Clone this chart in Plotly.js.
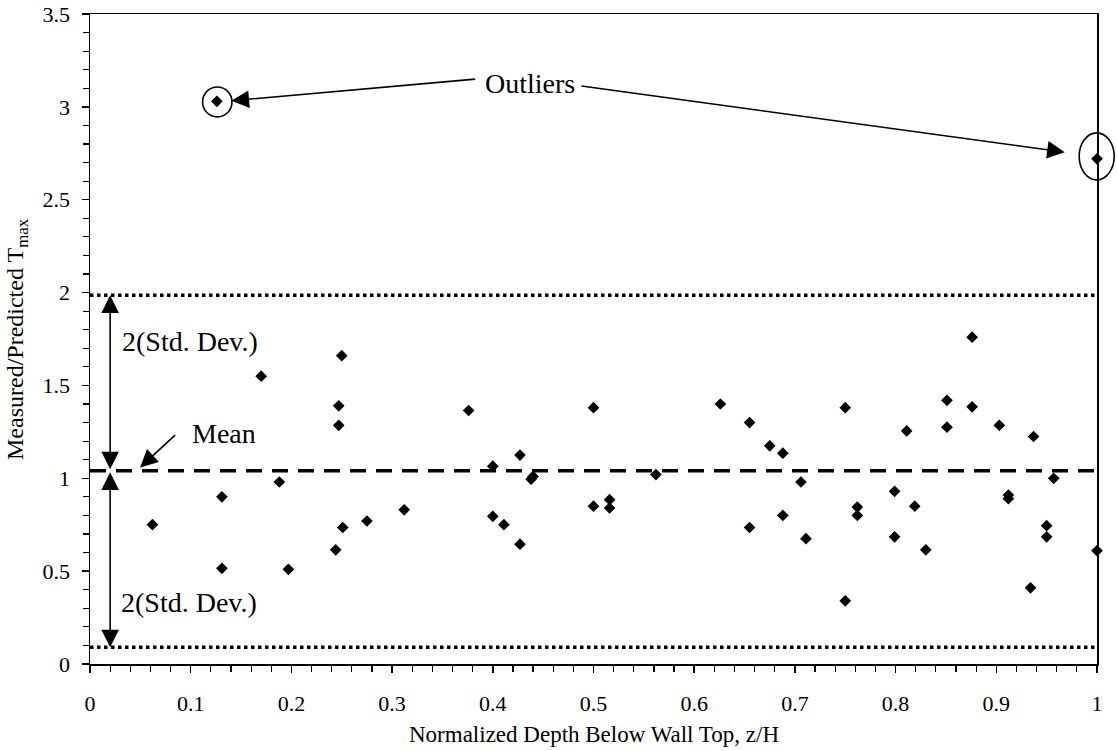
<!DOCTYPE html>
<html>
<head>
<meta charset="utf-8">
<script src="https://cdn.plot.ly/plotly-3.0.1.min.js"></script>
<style>html,body{margin:0;padding:0;background:#fff;}#chart{width:1117px;height:751px;}</style>
</head>
<body>
<div id="chart"></div>
<script>
// Normalized depth z/H
var depth = [0.062,0.126,0.131,0.131,0.170,0.188,0.197,0.244,0.247,0.247,0.250,0.251,0.275,0.312,
  0.376,0.400,0.400,0.411,0.427,0.427,0.438,0.440,0.500,0.500,0.516,0.516,0.562,0.626,0.655,0.655,
  0.675,0.688,0.688,0.706,0.711,0.750,0.750,0.762,0.762,0.799,0.799,0.811,0.819,0.830,0.851,0.851,
  0.876,0.876,0.903,0.912,0.912,0.934,0.937,0.950,0.950,0.957,1.000,1.000];
// Measured / Predicted Tmax
var ratio = [0.75,3.03,0.90,0.515,1.55,0.98,0.51,0.615,1.39,1.285,1.66,0.735,0.77,0.83,
  1.365,1.065,0.795,0.75,1.125,0.645,0.995,1.01,1.38,0.85,0.885,0.84,1.02,1.40,1.30,0.735,
  1.175,1.135,0.80,0.98,0.675,1.38,0.34,0.845,0.80,0.93,0.685,1.255,0.85,0.615,1.42,1.275,
  1.76,1.385,1.285,0.91,0.89,0.41,1.225,0.745,0.685,1.00,0.61,2.72];
// Statistics lines
var meanValue = 1.04;
var upperBound = 1.985;   // mean + 2 std dev
var lowerBound = 0.09;    // mean - 2 std dev
var xLimits = [0, 1];

var serif = '"Liberation Serif", "Times New Roman", Times, serif';

var traces = [
  {x: xLimits, y: [upperBound, upperBound], mode: 'lines', line: {color: '#000', width: 3.5, dash: '3.5px,3.5px'}, hoverinfo: 'skip', showlegend: false},
  {x: xLimits, y: [lowerBound, lowerBound], mode: 'lines', line: {color: '#000', width: 3.5, dash: '3.5px,3.5px'}, hoverinfo: 'skip', showlegend: false},
  {x: xLimits, y: [meanValue, meanValue], mode: 'lines', line: {color: '#000', width: 3.5, dash: '16px,10px'}, hoverinfo: 'skip', showlegend: false},
  {x: depth, y: ratio, mode: 'markers', type: 'scatter', cliponaxis: false,
   marker: {symbol: 'diamond', size: 9, color: '#000'}, showlegend: false}
];

var arrowStyle = {showarrow: true, arrowhead: 2, arrowsize: 2.2, arrowwidth: 1.6, arrowcolor: '#000', standoff: 0, startstandoff: 0, text: '', axref: 'x', ayref: 'y', xref: 'x', yref: 'y'};
function arrow(x0, y0, x1, y1, extra) {
  var a = Object.assign({}, arrowStyle, {ax: x0, ay: y0, x: x1, y: y1});
  return Object.assign(a, extra || {});
}
var lblFont = {family: serif, size: 28, color: '#000'};

var annotations = [
  // outliers
  {x: 0.437, y: 3.125, xref: 'x', yref: 'y', text: 'Outliers', showarrow: false, font: lblFont, xanchor: 'center', yanchor: 'middle'},
  arrow(0.384, 3.15, 0.1405, 3.033),
  arrow(0.4866, 3.113, 0.968, 2.756),
  // mean
  {x: 0.099, y: 1.24, xref: 'x', yref: 'y', text: 'Mean', showarrow: false, font: lblFont, xanchor: 'left', yanchor: 'middle'},
  arrow(0.086, 1.24, 0.0497, 1.058),
  // std dev arrows
  arrow(0.02, meanValue, 0.02, upperBound, {arrowside: 'end+start'}),
  arrow(0.02, meanValue, 0.02, lowerBound, {arrowside: 'end+start'}),
  {x: 0.03, y: 1.737, xref: 'x', yref: 'y', text: '2(Std. Dev.)', showarrow: false, font: lblFont, xanchor: 'left', yanchor: 'middle'},
  {x: 0.029, y: 0.33, xref: 'x', yref: 'y', text: '2(Std. Dev.)', showarrow: false, font: lblFont, xanchor: 'left', yanchor: 'middle'},
  // axis titles
  {x: 0.5, y: -0.109, xref: 'paper', yref: 'paper', text: 'Normalized Depth Below Wall Top, z/H', showarrow: false,
   font: {family: serif, size: 23, color: '#000'}, xanchor: 'center', yanchor: 'middle'},
  {x: -0.0725, y: 0.5, xref: 'paper', yref: 'paper', text: 'Measured/Predicted T<sub>max</sub>', showarrow: false, textangle: -90,
   font: {family: serif, size: 24, color: '#000'}, xanchor: 'center', yanchor: 'middle'}
];

var shapes = [
  {type: 'circle', xref: 'paper', yref: 'paper', x0: 0.1118, x1: 0.1410, y0: 2.946/3.5, y1: 3.107/3.5, line: {color: '#000', width: 1.6}},
  {type: 'circle', xref: 'paper', yref: 'paper', x0: 0.9823, x1: 1.0171, y0: 2.607/3.5, y1: 2.860/3.5, line: {color: '#000', width: 1.6}}
];

var tickFont = {family: serif, size: 22, color: '#000'};
var layout = {
  width: 1117, height: 751,
  font: {family: serif, color: '#000'},
  margin: {l: 90, r: 20, t: 14, b: 87, pad: 0},
  paper_bgcolor: '#fff', plot_bgcolor: '#fff',
  showlegend: false,
  xaxis: {range: [0, 1], dtick: 0.1, tick0: 0, showgrid: false, zeroline: false,
    showline: true, linecolor: '#000', linewidth: 1.5, mirror: true,
    ticks: 'outside', ticklen: 7, tickwidth: 1.5, tickcolor: '#000', tickfont: tickFont, ticklabelstandoff: 12,
    minor: {dtick: 0.02, ticks: 'outside', ticklen: 6, tickwidth: 1.2, tickcolor: '#000', showgrid: false}},
  yaxis: {range: [0, 3.5], dtick: 0.5, tick0: 0, showgrid: false, zeroline: false,
    showline: true, linecolor: '#000', linewidth: 1.5, mirror: true,
    ticks: 'outside', ticklen: 7, tickwidth: 1.5, tickcolor: '#000', tickfont: tickFont, ticklabelstandoff: 7,
    minor: {dtick: 0.1, ticks: 'outside', ticklen: 6, tickwidth: 1.2, tickcolor: '#000', showgrid: false}},
  annotations: annotations,
  shapes: shapes
};

Plotly.newPlot('chart', traces, layout, {displayModeBar: false, staticPlot: true});
</script>
</body>
</html>
